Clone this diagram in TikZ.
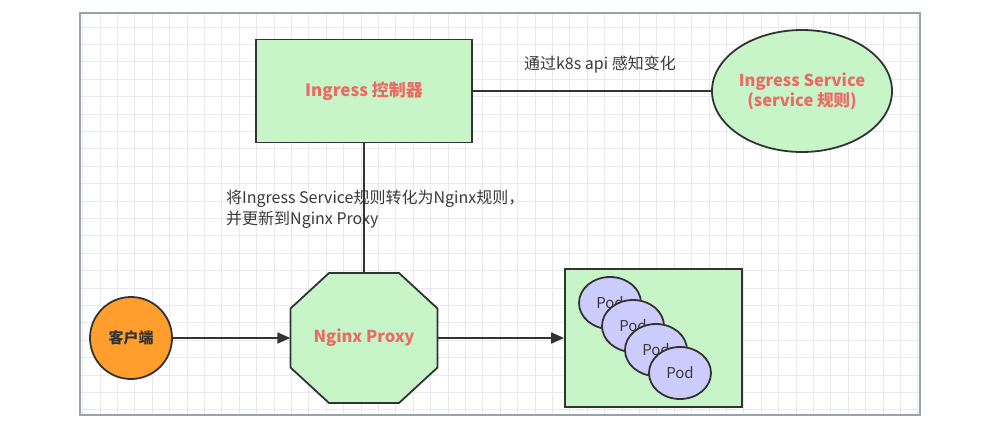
\documentclass[tikz,border=0pt]{standalone}
\usepackage{fontspec}
\setmainfont{Noto Sans CJK SC}
\usetikzlibrary{arrows.meta,shapes.geometric,calc}
\definecolor{gfill}{HTML}{C8F5C8}
\definecolor{salmon}{HTML}{EA6B66}
\definecolor{edgec}{HTML}{333333}
\definecolor{podfill}{HTML}{CCCCFF}
\definecolor{orangefill}{HTML}{FF9E2C}
\definecolor{gridc}{HTML}{E8E8EE}
\definecolor{framec}{HTML}{9AA3AD}
\definecolor{labelc}{HTML}{3A3A3A}
\tikzset{
  shapeline/.style={draw=edgec,line width=1.8pt},
  boldtxt/.style={font=\fontsize{16.5}{20}\selectfont\bfseries,text=salmon,align=center},
  greenbox/.style={shapeline,fill=gfill,rectangle,inner sep=0pt},
  podnode/.style={shapeline,fill=podfill,ellipse,minimum width=62pt,minimum height=52pt,inner sep=0pt,font=\fontsize{15}{17}\selectfont,text=labelc},
  lbl/.style={font=\fontsize{16}{21}\selectfont,text=labelc,inner sep=0pt},
  conn/.style={draw=edgec,line width=1.8pt},
  arr/.style={conn,-{Triangle[length=13pt,width=11pt]}}
}
\begin{document}
\begin{tikzpicture}[x=1pt,y=-1pt]
\useasboundingbox (0,0) rectangle (1008,432);
\fill[white] (0,0) rectangle (1008,432);
\begin{scope}
\clip (80,13) rectangle (920,415);
\foreach \i in {0,...,50} \draw[gridc,line width=0.8pt] ({82.6+\i*17.4},13) -- ++(0,402);
\foreach \j in {0,...,24} \draw[gridc,line width=0.8pt] (80,{9.6+\j*17.4}) -- ++(840,0);
\end{scope}
\draw[framec,line width=1.2pt] (80,13) rectangle (920,415);

% nodes
\node[greenbox,minimum width=216pt,minimum height=103pt,boldtxt,font=\fontsize{17}{20}\selectfont\bfseries] (ctrl) at (364,91) {Ingress 控制器};
\node[shapeline,fill=gfill,ellipse,minimum width=180pt,minimum height=122pt,inner sep=0pt,boldtxt] (svc) at (802,91) {Ingress Service\\(service 规则)};
\coordinate (nc) at (364,338);
\filldraw[shapeline,fill=gfill] ($(nc)+(-35,-65)$) -- ($(nc)+(35,-65)$) -- ($(nc)+(73.5,-29.5)$) -- ($(nc)+(73.5,29.5)$) -- ($(nc)+(35,65)$) -- ($(nc)+(-35,65)$) -- ($(nc)+(-73.5,29.5)$) -- ($(nc)+(-73.5,-29.5)$) -- cycle;
\node[rectangle,minimum width=147pt,minimum height=130pt,inner sep=0pt,boldtxt] (nginx) at (nc) {Nginx Proxy};
\node[shapeline,fill=orangefill,circle,minimum size=82pt,inner sep=0pt,font=\fontsize{15}{18}\selectfont\bfseries,text=edgec] (client) at (131,338) {客户端};
\node[greenbox,minimum width=177pt,minimum height=138pt] (pods) at (653.5,338) {};
\node[podnode] (pod1) at (610,303) {Pod};
\node[podnode] (pod2) at (633,326) {Pod};
\node[podnode] (pod3) at (656,350) {Pod};
\node[podnode] (pod4) at (680,373) {Pod};

% labels
\node[lbl] (l1) at (600,65) {通过k8s api 感知变化};
\node[lbl,anchor=north west,align=left] (l2) at (226,190) {将Ingress Service规则转化为Nginx规则，\\并更新到Nginx Proxy};

% connectors
\draw[conn] (ctrl.east) -- (svc.west);
\draw[conn] (ctrl.south) -- (nginx.north);
\draw[arr] (client.east) -- (nginx.west);
\draw[arr] (nginx.east) -- (pods.west);
\end{tikzpicture}
\end{document}
